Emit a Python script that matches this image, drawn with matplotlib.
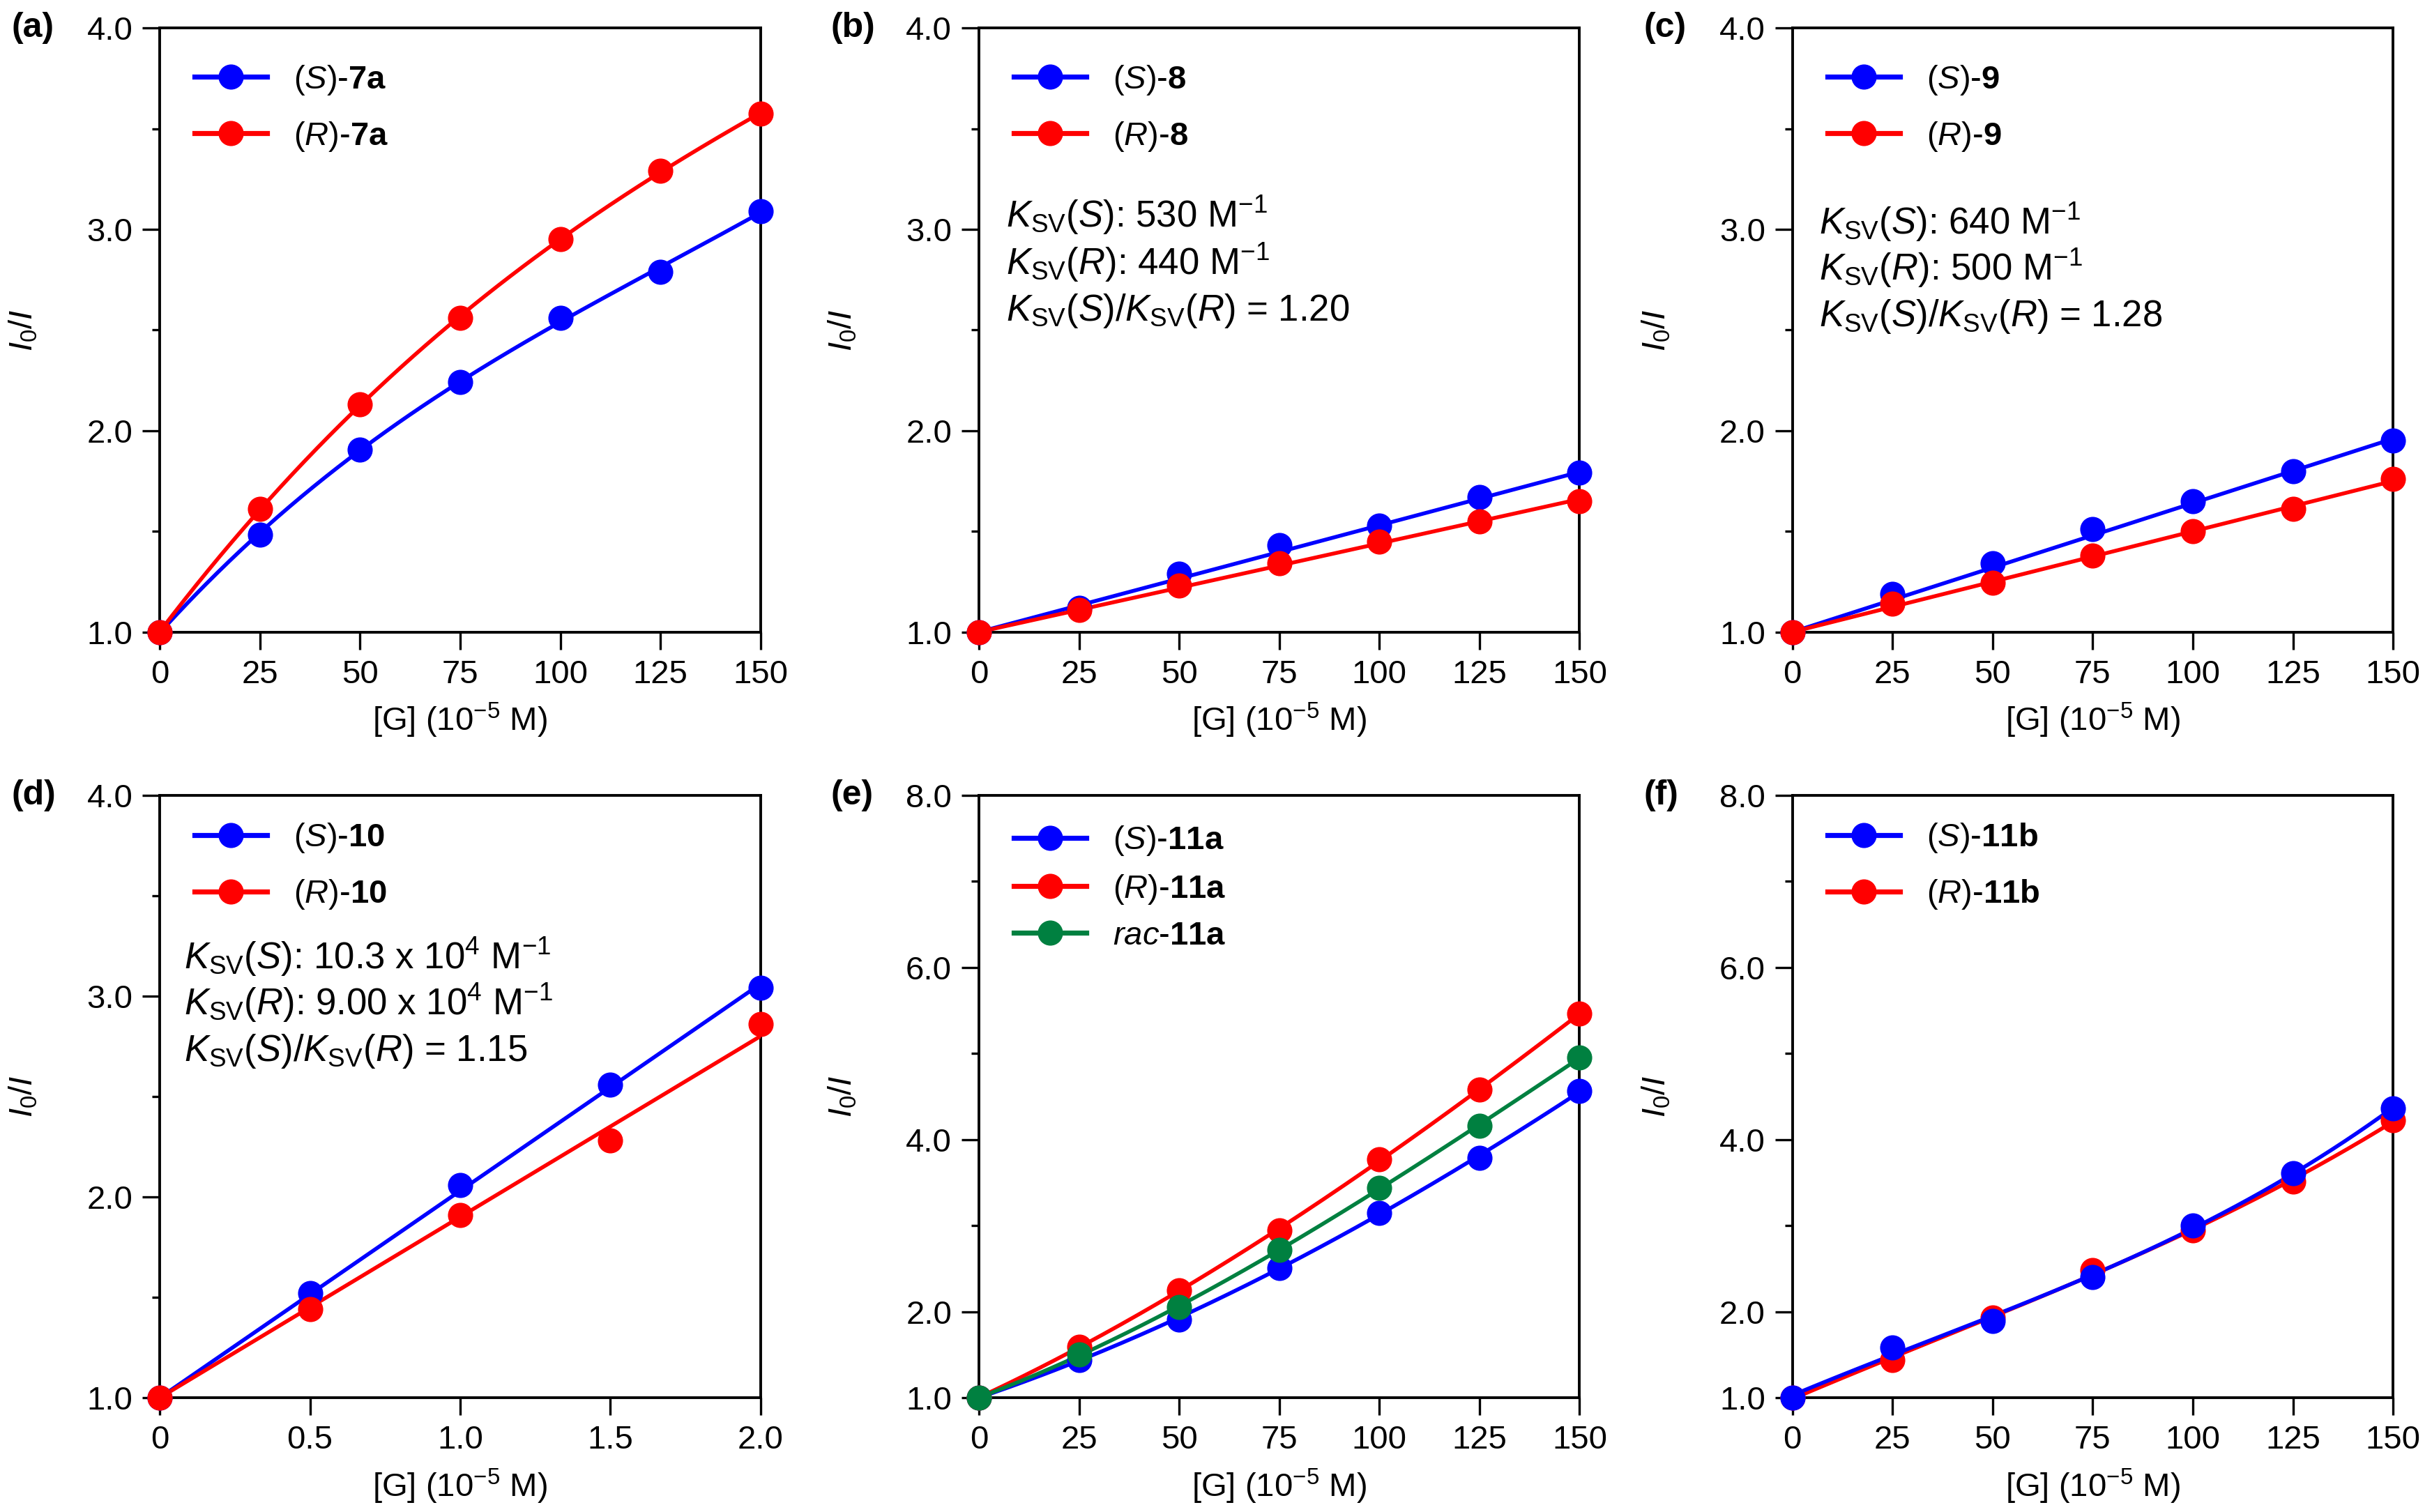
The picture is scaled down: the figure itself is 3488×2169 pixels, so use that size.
import matplotlib
matplotlib.use('Agg')
import matplotlib.pyplot as plt
import numpy as np

plt.rcParams['font.family'] = 'Liberation Sans'
plt.rcParams['mathtext.fontset'] = 'custom'
plt.rcParams['mathtext.rm'] = 'Liberation Sans'
plt.rcParams['mathtext.it'] = 'Liberation Sans:italic'
plt.rcParams['mathtext.bf'] = 'Liberation Sans:bold'

blue = '#0000ff'
red = '#ff0000'
green = '#008040'

# ------- DATA ------- #
conc = [0, 25, 50, 75, 100, 125, 150]
conc_d = [0, 0.5, 1.0, 1.5, 2.0]

a_S = [1.00, 1.485, 1.905, 2.24, 2.56, 2.79, 3.09]
a_R = [1.00, 1.61, 2.13, 2.56, 2.95, 3.29, 3.575]

b_S = [1.00, 1.12, 1.29, 1.43, 1.53, 1.67, 1.79]
b_R = [1.00, 1.11, 1.23, 1.34, 1.45, 1.55, 1.65]
b_ksv = [530, 440]

c_S = [1.00, 1.19, 1.34, 1.51, 1.65, 1.80, 1.95]
c_R = [1.00, 1.14, 1.245, 1.38, 1.50, 1.61, 1.76]
c_ksv = [640, 500]

d_S = [1.00, 1.52, 2.06, 2.56, 3.04]
d_R = [1.00, 1.44, 1.91, 2.28, 2.86]
d_ksv = [10.3e4, 9.00e4]

e_S = [1.00, 1.44, 1.91, 2.51, 3.15, 3.79, 4.56]
e_R = [1.00, 1.59, 2.25, 2.94, 3.77, 4.58, 5.46]
e_rac = [1.00, 1.50, 2.05, 2.72, 3.44, 4.16, 4.95]

f_S = [1.00, 1.58, 1.89, 2.40, 3.00, 3.61, 4.36]
f_R = [1.00, 1.44, 1.93, 2.48, 2.94, 3.51, 4.22]

ksv_text = {
    'b': ['$K_{\\mathrm{SV}}$($S$): 530 M$^{\\mathrm{-1}}$',
          '$K_{\\mathrm{SV}}$($R$): 440 M$^{\\mathrm{-1}}$',
          '$K_{\\mathrm{SV}}$($S$)/$K_{\\mathrm{SV}}$($R$) = 1.20'],
    'c': ['$K_{\\mathrm{SV}}$($S$): 640 M$^{\\mathrm{-1}}$',
          '$K_{\\mathrm{SV}}$($R$): 500 M$^{\\mathrm{-1}}$',
          '$K_{\\mathrm{SV}}$($S$)/$K_{\\mathrm{SV}}$($R$) = 1.28'],
    'd': ['$K_{\\mathrm{SV}}$($S$): 10.3 x 10$^{\\mathrm{4}}$ M$^{\\mathrm{-1}}$',
          '$K_{\\mathrm{SV}}$($R$): 9.00 x 10$^{\\mathrm{4}}$ M$^{\\mathrm{-1}}$',
          '$K_{\\mathrm{SV}}$($S$)/$K_{\\mathrm{SV}}$($R$) = 1.15'],
}

FS = 17

fig = plt.figure(figsize=(17.44, 10.845), dpi=200)
lefts = [0.0657, 0.4025, 0.737]
w = 0.247
rows = [(0.582, 0.3995), (0.0756, 0.3985)]


def style_axes(ax, ymax, xticks, xlabels):
    for s in ax.spines.values():
        s.set_linewidth(1.4)
    ax.set_ylim(1.0, ymax)
    ax.set_xlim(xticks[0], xticks[-1])
    ax.set_xticks(xticks)
    ax.set_xticklabels(xlabels)
    if ymax == 4:
        ax.set_yticks([1, 2, 3, 4])
        ax.set_yticks([1.5, 2.5, 3.5], minor=True)
    else:
        ax.set_yticks([1, 2, 4, 6, 8])
        ax.set_yticks([3, 5, 7], minor=True)
    ax.set_yticklabels([f'{v:.1f}' for v in ax.get_yticks()])
    ax.tick_params(axis='both', which='major', direction='out', length=9,
                   width=1.2, labelsize=FS, pad=5)
    ax.tick_params(axis='y', which='minor', direction='out', length=4, width=1.2)
    ax.tick_params(axis='x', which='minor', bottom=False)
    ax.set_xlabel('[G] (10$^{\\mathrm{-5}}$ M)', fontsize=FS, labelpad=6)
    ax.set_ylabel('$I_{\\mathrm{0}}/I$', fontsize=FS)
    ax.yaxis.set_label_coords(-0.2, 0.5)


def series(ax, x, y, color, label, deg=None, slope=None):
    xs = np.linspace(x[0], x[-1], 200)
    if slope is not None:
        ys = 1 + slope * xs
    else:
        ys = np.polyval(np.polyfit(x, y, deg), xs)
    ax.plot(xs, ys, color=color, lw=2, zorder=3)
    ax.plot(x, y, 'o', color=color, ms=12, zorder=4, clip_on=False)
    # legend handle
    ax.plot([], [], '-o', color=color, lw=2.6, ms=12, label=label)


def legend(ax, y0=0.98, spacing=0.7, order=None):
    h, l = ax.get_legend_handles_labels()
    if order:
        h, l = [h[i] for i in order], [l[i] for i in order]
    ax.legend(h, l, loc='upper left', bbox_to_anchor=(0.02, y0), frameon=False,
              fontsize=FS, handlelength=2.2, handletextpad=0.8,
              labelspacing=spacing, borderaxespad=0.3)


def ksv_block(ax, lines, x0, ys):
    for t, yy in zip(lines, ys):
        ax.text(x0, yy, t, transform=ax.transAxes, fontsize=19,
                ha='left', va='center')


conc_labels = [str(c) for c in conc]

panels = ['a', 'b', 'c', 'd', 'e', 'f']
axes = {}
for i, p in enumerate(panels):
    r, c = divmod(i, 3)
    bottom, h = rows[r]
    ax = fig.add_axes([lefts[c], bottom, w, h])
    axes[p] = ax
    fig.text(lefts[c] - 0.061, bottom + h, f'({p})', fontsize=FS + 1,
             fontweight='bold', ha='left', va='center')

# (a)
ax = axes['a']
series(ax, conc, a_S, blue, '($S$)-$\\mathbf{7a}$', deg=3)
series(ax, conc, a_R, red, '($R$)-$\\mathbf{7a}$', deg=3)
style_axes(ax, 4, conc, conc_labels)
legend(ax)

# (b)
ax = axes['b']
series(ax, conc, b_S, blue, '($S$)-$\\mathbf{8}$', slope=b_ksv[0] * 1e-5)
series(ax, conc, b_R, red, '($R$)-$\\mathbf{8}$', slope=b_ksv[1] * 1e-5)
style_axes(ax, 4, conc, conc_labels)
legend(ax)
ksv_block(ax, ksv_text['b'], 0.045, [0.69, 0.612, 0.532])

# (c)
ax = axes['c']
series(ax, conc, c_S, blue, '($S$)-$\\mathbf{9}$', slope=c_ksv[0] * 1e-5)
series(ax, conc, c_R, red, '($R$)-$\\mathbf{9}$', slope=c_ksv[1] * 1e-5)
style_axes(ax, 4, conc, conc_labels)
legend(ax)
ksv_block(ax, ksv_text['c'], 0.045, [0.679, 0.602, 0.522])

# (d)
ax = axes['d']
series(ax, conc_d, d_S, blue, '($S$)-$\\mathbf{10}$', slope=d_ksv[0] * 1e-5)
series(ax, conc_d, d_R, red, '($R$)-$\\mathbf{10}$', slope=d_ksv[1] * 1e-5)
style_axes(ax, 4, conc_d, ['0', '0.5', '1.0', '1.5', '2.0'])
legend(ax, y0=0.995)
ksv_block(ax, ksv_text['d'], 0.04, [0.732, 0.655, 0.575])

# (e)
ax = axes['e']
series(ax, conc, e_S, blue, '($S$)-$\\mathbf{11a}$', deg=3)
series(ax, conc, e_R, red, '($R$)-$\\mathbf{11a}$', deg=3)
series(ax, conc, e_rac, green, '$rac$-$\\mathbf{11a}$', deg=3)
style_axes(ax, 8, conc, conc_labels)
legend(ax, y0=0.99, spacing=0.45)

# (f)
ax = axes['f']
series(ax, conc, f_R, red, '($R$)-$\\mathbf{11b}$', deg=3)
series(ax, conc, f_S, blue, '($S$)-$\\mathbf{11b}$', deg=3)
style_axes(ax, 8, conc, conc_labels)
legend(ax, y0=0.995, order=[1, 0])

fig.savefig('out.png', dpi=200)
